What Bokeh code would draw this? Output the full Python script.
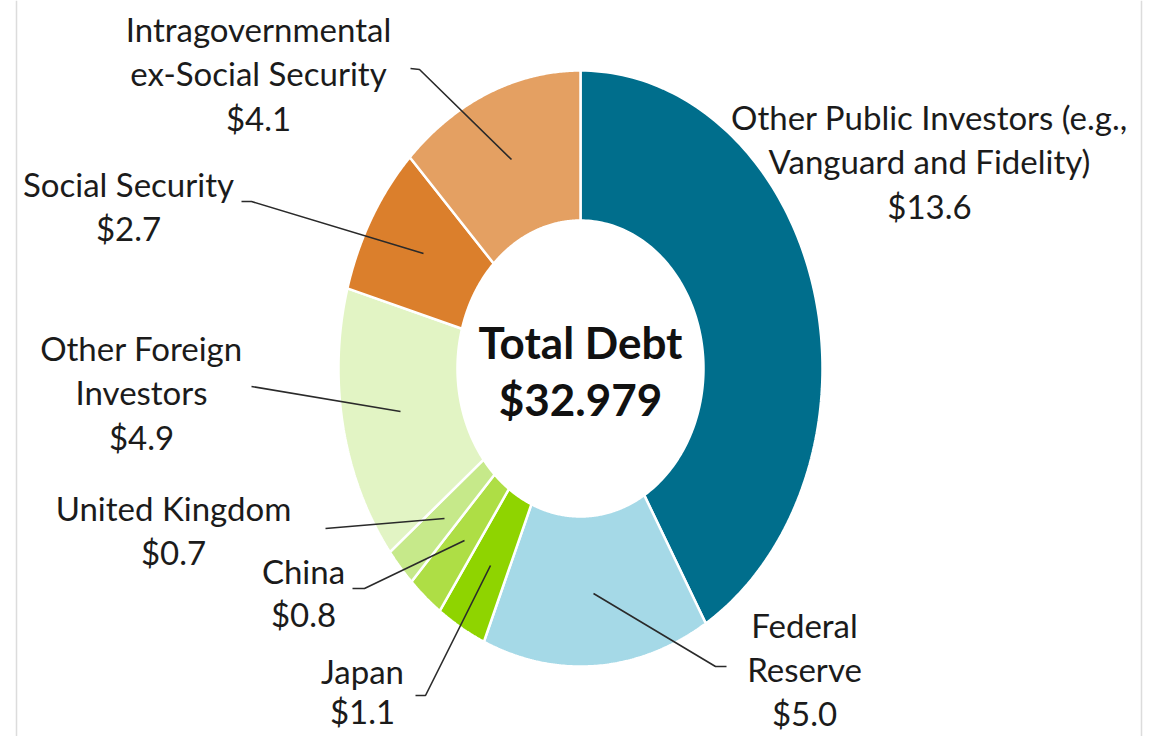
import numpy as np
from bokeh.plotting import figure
from bokeh.models import Range1d, Span
from bokeh.core.properties import value
from bokeh.embed import file_html
from bokeh.resources import INLINE

# ---- data (trillions of dollars) ----
categories = [
    "Other Public Investors (e.g., Vanguard and Fidelity)",
    "Federal Reserve",
    "Japan",
    "China",
    "United Kingdom",
    "Other Foreign Investors",
    "Social Security",
    "Intragovernmental ex-Social Security",
]
amounts = [13.6, 5.0, 1.1, 0.8, 0.7, 4.9, 2.7, 4.1]
total_debt = 32.979
colors = ["#006e8c", "#a5d9e7", "#8fd400", "#aede45", "#c6e98a",
          "#e2f4c4", "#db7f2c", "#e4a062"]

# label line splits (text only)
label_lines = [
    ["Other Public Investors (e.g.,", "Vanguard and Fidelity)"],
    ["Federal", "Reserve"],
    ["Japan"],
    ["China"],
    ["United Kingdom"],
    ["Other Foreign", "Investors"],
    ["Social Security"],
    ["Intragovernmental", "ex-Social Security"],
]

# ---- layout (pixel-like units, centre of donut at origin) ----
W, H = 1158, 736
X0, Y0 = 0, 0
CX_PIX, CY_PIX = 580, 368
RX_OUT, RY_OUT = 242, 298
RX_IN, RY_IN = 123, 148

def px(x):
    return x - CX_PIX

def py(y):
    return CY_PIX - y

FONT = "Lato"
FS = "33px"
TEXT_COLOR = "#1b1b1b"

# label anchor (centre x, first line y, line spacing) in screen pixels
label_pos = [
    (929, 116, 44.5), (804, 624, 44), (362, 670, 40), (303, 570, 43),
    (173, 507, 44.5), (141, 347, 44.5), (128, 183, 44), (258, 28, 44.5),
]
# leader lines in screen pixels
leaders = [
    None,
    [(726, 666), (715, 666), (593, 593)],
    [(415, 695), (425, 695), (490, 565)],
    [(352, 588), (364, 588), (464, 540)],
    [(325, 528), (444, 518)],
    [(251, 386), (400, 411)],
    [(241, 201), (251, 201), (423, 253)],
    [(410, 68), (419, 69), (511, 159)],
]

p = figure(width=W, height=H, output_backend="svg", toolbar_location=None,
           x_range=Range1d(px(X0), px(X0 + W)), y_range=Range1d(py(Y0 + H), py(Y0)),
           min_border=0, outline_line_color=None)
p.axis.visible = False
p.grid.visible = False
p.background_fill_color = "white"
p.border_fill_color = "white"

# donut slices (elliptical, clockwise from 12 o'clock)
vals = np.array(amounts, dtype=float)
fr = np.cumsum(np.concatenate([[0.0], vals])) / vals.sum()
xs, ys = [], []
for i in range(len(vals)):
    a0, a1 = fr[i] * 2 * np.pi, fr[i + 1] * 2 * np.pi
    t = np.linspace(a0, a1, 120)
    ox, oy = RX_OUT * np.sin(t), RY_OUT * np.cos(t)
    ix, iy = RX_IN * np.sin(t[::-1]), RY_IN * np.cos(t[::-1])
    xs.append(list(np.concatenate([ox, ix])))
    ys.append(list(np.concatenate([oy, iy])))
p.patches(xs, ys, fill_color=colors, line_color="white", line_width=2.5)

# leader lines
lx, ly = [], []
for ld in leaders:
    if ld is None:
        continue
    lx.append([px(a) for a, b in ld])
    ly.append([py(b) for a, b in ld])
p.multi_line(lx, ly, line_color="#2a2a2a", line_width=1.6)

# labels
tx, ty, tt = [], [], []
for lines, amt, (cx, cy, lh) in zip(label_lines, amounts, label_pos):
    allines = lines + [f"${amt:.1f}"]
    for k, s in enumerate(allines):
        tx.append(px(cx))
        ty.append(py(cy + k * lh))
        tt.append(s)
p.text(tx, ty, text=tt, text_font=value(FONT), text_font_size=FS,
       text_align="center", text_baseline="middle", text_color=TEXT_COLOR)

# centre text
p.text([0, 0], [py(341), py(398)], text=["Total Debt", f"${total_debt:.3f}"],
       text_font=value(FONT), text_font_size="44px", text_font_style="bold",
       text_align="center", text_baseline="middle", text_color="#111111")

# side rules
for xpix in (16, 1141):
    p.add_layout(Span(location=px(xpix), dimension="height",
                      line_color="#dcdcdc", line_width=1.5))

open("out.html", "w").write(file_html(p, INLINE))
